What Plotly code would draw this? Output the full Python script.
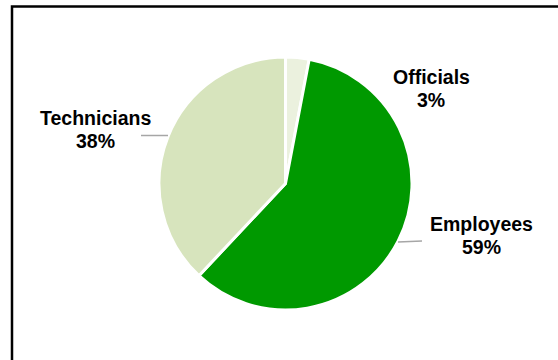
import plotly.graph_objects as go

categories = ["Officials", "Employees", "Technicians"]
values = [3, 59, 38]
colors = ["#ebf1de", "#009900", "#d7e4bd"]

W, H = 558, 360
cx, cy, r = 285.5, 183.5, 126.5

fig = go.Figure()
fig.add_trace(go.Pie(
    labels=categories, values=values, sort=False, direction="clockwise", rotation=0,
    marker=dict(colors=colors, line=dict(color="white", width=3)),
    textinfo="none", hoverinfo="label+percent", showlegend=False,
    domain=dict(x=[(cx - r) / W, (cx + r) / W], y=[(H - cy - r) / H, (H - cy + r) / H]),
))

# (center x, name line y, percent line y)
label_pos = {"Officials": (431, 77, 99.5), "Employees": (481, 224, 246.5), "Technicians": (95.5, 118.5, 141)}
total = sum(values)
font = dict(family="Liberation Sans, Arial", size=19.5, color="black")
for c, v in zip(categories, values):
    x, y1, y2 = label_pos[c]
    for txt, yy in ((c, y1), (f"{round(100 * v / total)}%", y2)):
        fig.add_annotation(x=x / W, y=1 - yy / H, xref="paper", yref="paper",
                           text=f"<b>{txt}</b>", showarrow=False, font=font,
                           xanchor="center", yanchor="middle", align="center")

# leader lines
for (x0, y0, x1, y1) in [(141, 135.5, 168, 135.5), (398, 242, 422, 241)]:
    fig.add_shape(type="line", xref="paper", yref="paper",
                  x0=x0 / W, y0=1 - y0 / H, x1=x1 / W, y1=1 - y1 / H,
                  line=dict(color="#a6a6a6", width=1.5))

# frame
fig.add_shape(type="rect", xref="paper", yref="paper",
              x0=12 / W, y0=-0.05, x1=1.05, y1=1 - 6.5 / H,
              line=dict(color="black", width=2.5), fillcolor="rgba(0,0,0,0)")

fig.update_layout(width=W, height=H, margin=dict(l=0, r=0, t=0, b=0),
                  paper_bgcolor="white", plot_bgcolor="white")
fig.write_html("out.html")
